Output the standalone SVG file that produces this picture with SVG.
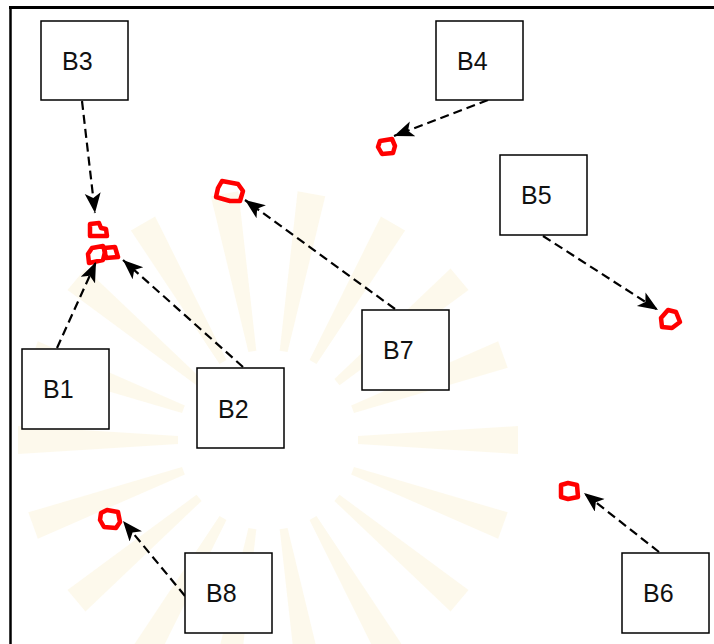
<svg xmlns="http://www.w3.org/2000/svg" width="714" height="644" viewBox="0 0 714 644">
<defs>
<style>
.box{fill:#fff;stroke:#000;stroke-width:1.5}
.lbl{font-family:"Liberation Sans",Arial,sans-serif;font-size:25px;fill:#111}
.conn{fill:none;stroke:#000;stroke-width:2.2;stroke-dasharray:9,5}
.blob{fill:none;stroke:#f00;stroke-width:4.5;stroke-linejoin:round}
.ray{fill:#f8edc8;opacity:0.35}
</style>
<marker id="ah" markerUnits="userSpaceOnUse" markerWidth="22" markerHeight="18" refX="20" refY="8" orient="auto">
<path d="M0,0 L20,8 L0,16 L5,8 Z" fill="#000"/>
</marker>
<polygon id="wedge" points="-4,-90 4,-90 14,-250 -14,-250"/>
</defs>
<rect width="714" height="644" fill="#fff"/>
<g id="watermark" transform="translate(268,440)">
<use href="#wedge" class="ray" transform="rotate(-150)"/>
<use href="#wedge" class="ray" transform="rotate(-130)"/>
<use href="#wedge" class="ray" transform="rotate(-110)"/>
<use href="#wedge" class="ray" transform="rotate(-90)"/>
<use href="#wedge" class="ray" transform="rotate(-70)"/>
<use href="#wedge" class="ray" transform="rotate(-50)"/>
<use href="#wedge" class="ray" transform="rotate(-30)"/>
<use href="#wedge" class="ray" transform="rotate(-10)"/>
<use href="#wedge" class="ray" transform="rotate(10)"/>
<use href="#wedge" class="ray" transform="rotate(30)"/>
<use href="#wedge" class="ray" transform="rotate(50)"/>
<use href="#wedge" class="ray" transform="rotate(70)"/>
<use href="#wedge" class="ray" transform="rotate(90)"/>
<use href="#wedge" class="ray" transform="rotate(110)"/>
<use href="#wedge" class="ray" transform="rotate(130)"/>
<use href="#wedge" class="ray" transform="rotate(150)"/>
<use href="#wedge" class="ray" transform="rotate(170)"/>
<use href="#wedge" class="ray" transform="rotate(190)"/>
</g>
<g id="frame">
<line x1="9" y1="7.5" x2="714" y2="7.5" stroke="#000" stroke-width="3"/>
<line x1="10.5" y1="6" x2="10.5" y2="644" stroke="#000" stroke-width="2.5"/>
</g>
<g id="targets">
<path class="blob" d="M90,224 L99,223 L101,228 L106,229 L107,236 L90,236 Z"/>
<path class="blob" d="M92,248 L103,246 L105,252 L103,260 L89,263 L88,254 Z"/>
<path class="blob" d="M104,248 L115,247 L118,257 L106,258 Z"/>
<path class="blob" d="M222,181 L238,184 L243,191 L240,201 L230,201 L216,197 L218,188 Z"/>
<path class="blob" d="M380,141 L392,139 L395,146 L393,153 L382,154 L378,147 Z"/>
<path class="blob" d="M668,310 L676,312 L680,322 L672,328 L662,327 L661,318 Z"/>
<path class="blob" d="M101,513 L107,510 L118,512 L120,522 L116,528 L104,527 L100,520 Z"/>
<path class="blob" d="M561,485 L568,483 L577,485 L578,497 L568,499 L561,497 Z"/>
</g>
<g id="connectors">
<path class="conn" d="M82,101 L95,213" marker-end="url(#ah)"/>
<path class="conn" d="M57,348 L96,262" marker-end="url(#ah)"/>
<path class="conn" d="M243,367 L123,260" marker-end="url(#ah)"/>
<path class="conn" d="M395,309 L245,200" marker-end="url(#ah)"/>
<path class="conn" d="M488,100 L394,136" marker-end="url(#ah)"/>
<path class="conn" d="M543,236 L658,310" marker-end="url(#ah)"/>
<path class="conn" d="M659,552 L584,493" marker-end="url(#ah)"/>
<path class="conn" d="M185,596 L123,521" marker-end="url(#ah)"/>
</g>
<g id="B3"><rect class="box" x="41" y="21" width="87" height="79"/><text class="lbl" x="62" y="70">B3</text></g>
<g id="B4"><rect class="box" x="436" y="21" width="87" height="79"/><text class="lbl" x="457" y="70">B4</text></g>
<g id="B5"><rect class="box" x="500" y="155" width="87" height="80"/><text class="lbl" x="521" y="204">B5</text></g>
<g id="B7"><rect class="box" x="362" y="310" width="87" height="80"/><text class="lbl" x="383" y="359">B7</text></g>
<g id="B1"><rect class="box" x="22" y="349" width="87" height="80"/><text class="lbl" x="43" y="398">B1</text></g>
<g id="B2"><rect class="box" x="197" y="368" width="87" height="80"/><text class="lbl" x="218" y="418">B2</text></g>
<g id="B8"><rect class="box" x="185" y="553" width="87" height="80"/><text class="lbl" x="206" y="602">B8</text></g>
<g id="B6"><rect class="box" x="622" y="553" width="87" height="80"/><text class="lbl" x="643" y="602">B6</text></g>
</svg>
